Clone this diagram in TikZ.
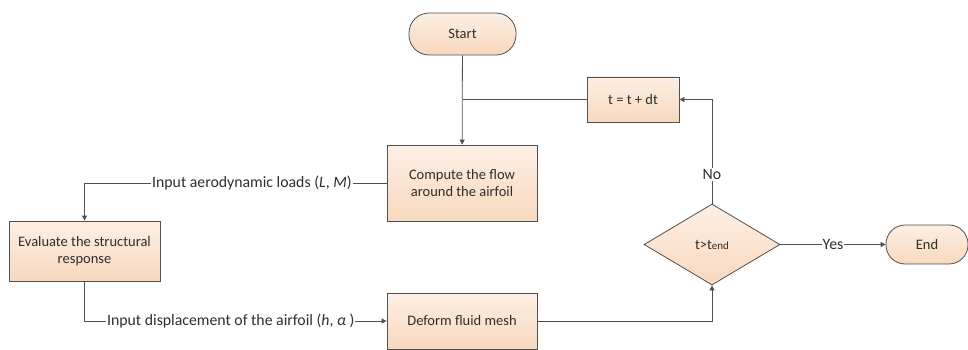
\documentclass[tikz,border=0pt]{standalone}
\usepackage{fontspec}
\setmainfont{Carlito}
\usetikzlibrary{shapes.geometric,arrows.meta}
\definecolor{boxtop}{HTML}{FDEFE4}
\definecolor{boxbot}{HTML}{F8D8BE}
\definecolor{edgegray}{HTML}{505050}
\definecolor{txtgray}{HTML}{2E2E2E}
\begin{document}
\begin{tikzpicture}[x=1pt,y=-1pt,font=\fontsize{14.5}{17}\selectfont,text=txtgray]

      \useasboundingbox (0,0) rectangle (968,350);

      \begin{scope}[every node/.style={draw=edgegray,thick,top color=boxtop,bottom color=boxbot,
          align=center,inner sep=2pt}]
        \node[rounded corners=20pt,minimum width=107pt,minimum height=42pt] (start) at (462.5,34) {Start};
        \node[minimum width=92pt,minimum height=45pt] (tstep) at (633,99.5) {t = t + dt};
        \node[minimum width=150pt,minimum height=76pt] (compute) at (462,183) {Compute the flow\\around the airfoil};
        \node[minimum width=151pt,minimum height=60pt] (evaluate) at (84.5,251) {Evaluate the structural\\response};
        \node[minimum width=150pt,minimum height=56pt] (deform) at (462,321) {Deform fluid mesh};
        \node[diamond,inner sep=0pt,minimum width=136pt,minimum height=81pt] (check) at (712,244.5)
          {t>t{\fontsize{11}{12}\selectfont end}};
        \node[rounded corners=19pt,minimum width=82pt,minimum height=39pt] (finish) at (927,244.5) {End};
      \end{scope}

      \begin{scope}[every path/.style={draw=edgegray,thick},>={Triangle[length=5pt,width=5pt]},
          every node/.style={fill=white,inner sep=1pt,font=\fontsize{15.8}{18}\selectfont}]
        \draw[->] (start) -- (compute);
        \draw (tstep.west) -- (start.south |- tstep.west);
        \draw[->] (check.north) |- node[pos=0.14] {No} (tstep.east);
        \draw[->] (compute.west) -| node[pos=0.223] {Input aerodynamic loads ({\itshape L}, {\itshape M})} (evaluate.north);
        \draw[->] (evaluate.south) |- node[pos=0.742] {Input displacement of the airfoil ({\itshape h}, {\itshape α} )} (deform.west);
        \draw[->] (deform.east) -| (check.south);
        \draw[->] (check.east) -- node {Yes} (finish.west);
      \end{scope}

    \end{tikzpicture}
\end{document}
